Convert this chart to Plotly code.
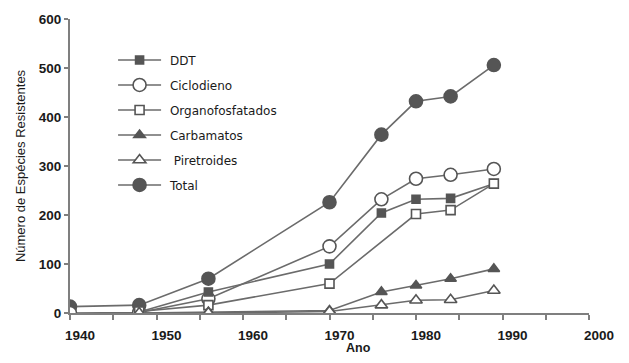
import plotly.graph_objects as go

# Resistant species counts by insecticide class
anos_total = [1940, 1948, 1956, 1970, 1976, 1980, 1984, 1989]
total = [13, 16, 70, 226, 364, 432, 442, 506]

anos_ciclo = [1940, 1948, 1956, 1970, 1976, 1980, 1984, 1989]
ciclodieno = [0, 1, 29, 136, 232, 274, 282, 294]

anos_ddt = [1948, 1956, 1970, 1976, 1980, 1984, 1989]
ddt = [2, 43, 100, 204, 232, 234, 264]

anos_organo = [1948, 1956, 1970, 1980, 1984, 1989]
organofosfatados = [3, 16, 60, 202, 210, 264]

anos_carb = [1948, 1956, 1970, 1976, 1980, 1984, 1989]
carbamatos = [0, 2, 5, 43, 56, 70, 90]

anos_pir = [1948, 1956, 1970, 1976, 1980, 1984, 1989]
piretroides = [0, 0, 3, 16, 26, 27, 46]

x_ticks = [1940, 1950, 1960, 1970, 1980, 1990, 2000]
y_ticks = [0, 100, 200, 300, 400, 500, 600]

LINE = "#6b6b6b"
DARK = "#555555"
NB = "\u00a0"

series = [
    (NB + "DDT", anos_ddt, ddt, "square", DARK, 8),
    (NB + "Ciclodieno", anos_ciclo, ciclodieno, "circle", "white", 13),
    (NB + "Organofosfatados", anos_organo, organofosfatados, "square", "white", 9),
    (NB + "Carbamatos", anos_carb, carbamatos, "triangle-up", DARK, 10),
    (NB + NB + "Piretroides", anos_pir, piretroides, "triangle-up", "white", 11),
    (NB + "Total", anos_total, total, "circle", DARK, 13),
]

fig = go.Figure()
draw_order = [5, 1, 0, 2, 3, 4]
for i in draw_order:
    name, xs, ys, sym, fill, size = series[i]
    fig.add_trace(go.Scatter(
        x=xs, y=ys, name=name, mode="lines+markers",
        line=dict(color=LINE, width=1.6),
        marker=dict(symbol=sym, size=size, color=fill,
                    line=dict(color=DARK, width=1.6)),
        legendrank=i + 1, legendgroup=name,
    ))

SANS = "Liberation Sans, Arial, sans-serif"
axis_font = dict(family=SANS, size=13.5, color="#1a1a1a", weight="bold")

fig.update_layout(
    width=629, height=363,
    margin=dict(l=70, r=40, t=14, b=50),
    plot_bgcolor="white", paper_bgcolor="white",
    showlegend=True,
    legend=dict(
        x=0.083, y=0.91, xanchor="left", yanchor="top",
        bgcolor="rgba(0,0,0,0)", itemwidth=43,
        tracegroupgap=6,
        font=dict(family="DejaVu Sans, sans-serif", size=12, color="#1a1a1a"),
    ),
    xaxis=dict(
        range=[1940, 2000], tickvals=x_ticks, ticktext=[str(v) for v in x_ticks],
        showline=True, linecolor="#7f7f7f", linewidth=2,
        ticks="outside", ticklen=5, tickwidth=2, tickcolor="#7f7f7f",
        minor=dict(dtick=5, tick0=1940, ticks="outside", ticklen=5,
                   tickwidth=2, tickcolor="#7f7f7f"),
        showgrid=False, zeroline=False, tickfont=axis_font,
        ticklabelshift=10, ticklabelstandoff=4,
    ),
    yaxis=dict(
        range=[0, 600], tickvals=y_ticks,
        showline=True, linecolor="#7f7f7f", linewidth=2,
        ticks="outside", ticklen=4, tickwidth=2, tickcolor="#7f7f7f",
        showgrid=False, zeroline=False,
        tickfont=axis_font,
        title=dict(text="Número de Espécies Resistentes", standoff=10,
                   font=dict(family=SANS, size=13, color="#1a1a1a")),
    ),
    annotations=[dict(
        text="Ano", xref="paper", yref="paper", x=0.556, y=-0.09,
        xanchor="center", yanchor="top", showarrow=False,
        font=dict(family=SANS, size=12.5, color="#1a1a1a", weight="bold"),
    )],
)

fig.write_html("out.html")
